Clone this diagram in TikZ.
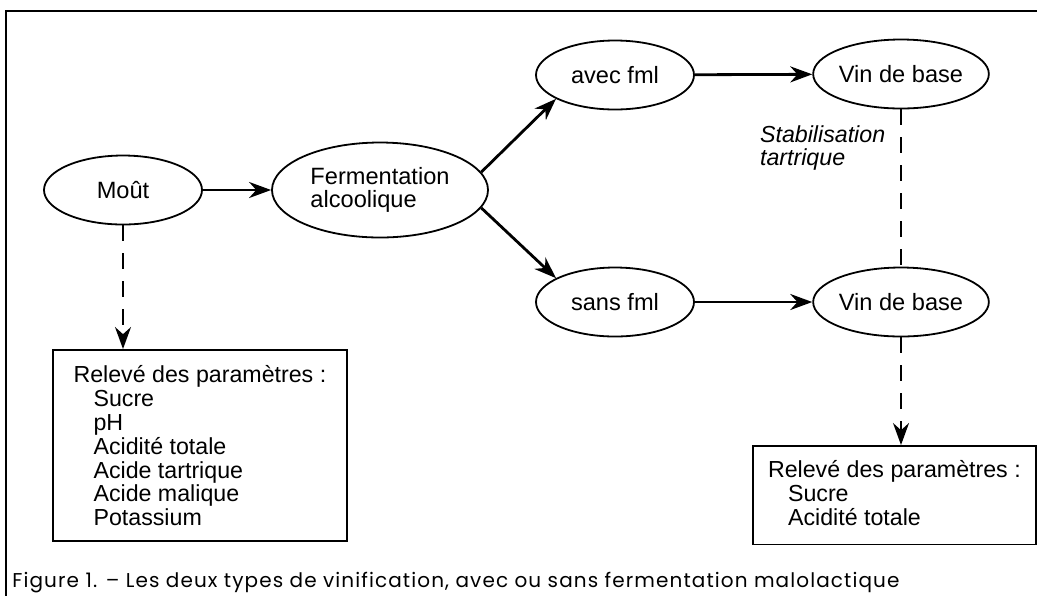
\documentclass[tikz,border=0pt]{standalone}
\usepackage{fontspec}
\setmainfont{Liberation Sans}
\newfontfamily\legendefont[LetterSpace=5.5]{Poppins}
\usetikzlibrary{shapes.geometric,arrows.meta}

\tikzset{
    etape/.style={draw, ellipse, line width=0.9pt, minimum width=79pt, minimum height=34.5pt, inner sep=0pt, align=left, font=\fontsize{11.8}{11.8}\selectfont},
    releve/.style={draw, rectangle, line width=0.9pt, anchor=north west, align=left, inner ysep=7.5pt, font=\fontsize{11.6}{11.9}\selectfont},
    fleche/.style={-{Stealth[length=11pt,width=8pt]}, line width=1.4pt},
    pointille/.style={line width=0.9pt, dash pattern=on 8pt off 6pt},
}

\begin{document}
\begin{tikzpicture}[x=0.5pt, y=-0.5pt] % 1 unite = 1 pixel
            \useasboundingbox (0,0) rectangle (1037,596);
            \draw[line width=0.8pt] (1037,11) -- (6,11) -- (6,596);

            \node[etape] (moust) at (123,190) {Moût};
            \node[etape, minimum width=108pt, minimum height=47.5pt] (ferm) at (380,190) {Fermentation\\alcoolique};
            \node[etape] (avec) at (615,75) {avec fml};
            \node[etape] (sans) at (615,302) {sans fml};
            \node[etape] (vinA) at (901,74) {Vin de base};
            \node[etape] (vinB) at (901,302) {Vin de base};

            \node[anchor=west, align=left, font=\fontsize{11.6}{11.8}\selectfont\itshape] (stab) at (753,148) {Stabilisation\\tartrique};

            \node[releve, minimum width=147pt] (releveA) at (52,349)
                {\rule{0pt}{9pt}Relevé des paramètres :\\
                 \hspace*{10pt}Sucre\\
                 \hspace*{10pt}pH\\
                 \hspace*{10pt}Acidité totale\\
                 \hspace*{10pt}Acide tartrique\\
                 \hspace*{10pt}Acide malique\\
                 \hspace*{10pt}Potassium};
            \node[releve, minimum width=141.5pt] (releveB) at (752,445)
                {\rule{0pt}{8pt}Relevé des paramètres :\\
                 \hspace*{10pt}Sucre\\
                 \hspace*{10pt}Acidité totale\rule[-2pt]{0pt}{0pt}};

            \draw[fleche] (moust) -- (ferm);
            \draw[fleche] (ferm.10) -- (avec.202);
            \draw[fleche] (ferm.-10) -- (sans.158);
            \draw[fleche] (avec) -- (vinA);
            \draw[fleche] (sans) -- (vinB);

            \draw[pointille] (vinA) -- (vinB);
            \draw[pointille, -{Stealth[length=11pt,width=8pt]}] (moust.south) -- (moust.south |- releveA.north);
            \draw[pointille, -{Stealth[length=11pt,width=8pt]}] (vinB.south) -- (vinB.south |- releveB.north);

            \node[anchor=base west, inner sep=0pt, font=\legendefont\fontsize{10}{11}\selectfont] (legende) at (12,587)
                {Figure 1. – Les deux types de vinification, avec ou sans fermentation malolactique};
        \end{tikzpicture}
\end{document}
